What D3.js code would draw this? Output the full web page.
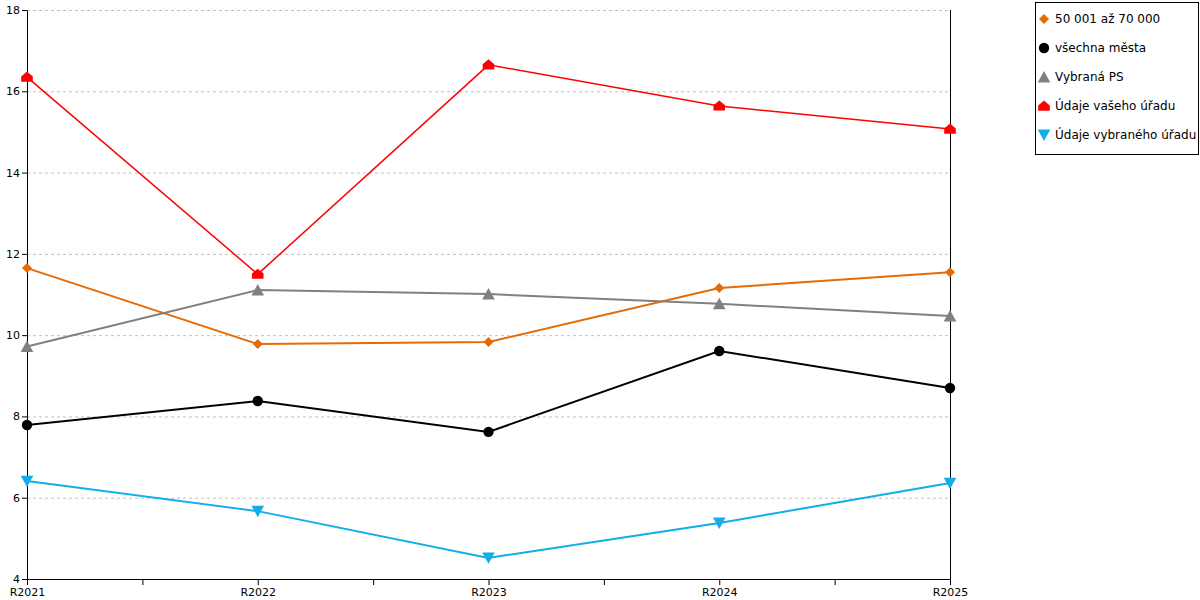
<!DOCTYPE html>
<html>
<head>
<meta charset="utf-8">
<script src="https://cdn.jsdelivr.net/npm/d3@7"></script>
<style>
  html, body { margin: 0; padding: 0; background: #fff; }
  svg { display: block; font-family: "DejaVu Sans", Verdana, sans-serif; }
</style>
</head>
<body>
<svg id="chart" width="1200" height="600"></svg>
<script>
const categories = ["R2021", "R2022", "R2023", "R2024", "R2025"];
const yTicks = [4, 6, 8, 10, 12, 14, 16, 18];

const seriesNames = ["50 001 až 70 000", "všechna města", "Vybraná PS", "Údaje vašeho úřadu", "Údaje vybraného úřadu"];
const seriesColors = ["#e36c09", "#000000", "#808080", "#ff0000", "#12aee8"];
const seriesSymbols = ["diamond", "circle", "triangle", "house", "triangleDown"];

const values5070 = [11.65, 9.78, 9.83, 11.16, 11.55];
const valuesAll = [7.79, 8.38, 7.62, 9.61, 8.70];
const valuesPS = [9.72, 11.11, 11.01, 10.77, 10.47];
const valuesYour = [16.35, 11.50, 16.65, 15.64, 15.07];
const valuesSelected = [6.41, 5.67, 4.52, 5.38, 6.36];

const seriesValues = [values5070, valuesAll, valuesPS, valuesYour, valuesSelected];

const svg = d3.select("#chart");
const L = 27, R = 950, T = 10, B = 579;

const x = d3.scalePoint().domain(categories).range([L, R]).padding(0);
const xIdx = d3.scaleLinear().domain([0, categories.length - 1]).range([L, R]);
const y = d3.scaleLinear().domain([4, 18]).range([B, T]);

// gridlines
svg.append("g")
  .selectAll("line")
  .data(yTicks.filter(d => d > 4))
  .join("line")
  .attr("x1", L).attr("x2", R)
  .attr("y1", d => y(d) + 0.5).attr("y2", d => y(d) + 0.5)
  .attr("stroke", "#c0c0c0")
  .attr("stroke-width", 1)
  .attr("stroke-dasharray", "3,3");

// right vertical line
svg.append("line")
  .attr("x1", R + 0.5).attr("x2", R + 0.5)
  .attr("y1", T).attr("y2", B)
  .attr("stroke", "#000").attr("stroke-width", 1);

// y axis
const yAxis = svg.append("g")
  .attr("transform", `translate(${L},0)`)
  .call(d3.axisLeft(y).tickValues(yTicks).tickSize(5).tickSizeOuter(0).tickFormat(d3.format("d")).offset(0.5));
yAxis.select(".domain").attr("stroke", "#000");
yAxis.selectAll("line").attr("stroke", "#000");
yAxis.selectAll("text").attr("font-size", 11).attr("fill", "#000").attr("font-family", "DejaVu Sans, sans-serif").attr("x", -7);

// x axis
const xAxis = svg.append("g")
  .attr("transform", `translate(0,${B})`)
  .call(d3.axisBottom(x).tickSize(6).tickSizeOuter(0).offset(0.5));
xAxis.select(".domain").attr("stroke", "#000");
xAxis.selectAll("line").attr("stroke", "#000");
xAxis.selectAll("text").attr("font-size", 11).attr("fill", "#000").attr("font-family", "DejaVu Sans, sans-serif").attr("y", 9).attr("dy", "0.71em");

// minor x ticks
const minor = d3.range(categories.length - 1).map(i => i + 0.5);
const xMinor = svg.append("g")
  .attr("transform", `translate(0,${B})`)
  .call(d3.axisBottom(xIdx).tickValues(minor).tickSize(6).tickFormat("").offset(0.5));
xMinor.select(".domain").remove();
xMinor.selectAll("line").attr("stroke", "#000");

// symbol generators
function symbolPath(kind, s) {
  if (kind === "diamond") {
    return `M0,${-s}L${s},0L0,${s}L${-s},0Z`;
  }
  if (kind === "circle") {
    return d3.symbol(d3.symbolCircle, Math.PI * s * s)();
  }
  if (kind === "triangle") {
    const h = s * 1.0;
    return `M0,${-h}L${s * 1.05},${h * 0.9}L${-s * 1.05},${h * 0.9}Z`;
  }
  if (kind === "triangleDown") {
    const h = s * 1.0;
    return `M0,${h}L${s * 1.05},${-h * 0.9}L${-s * 1.05},${-h * 0.9}Z`;
  }
  if (kind === "house") {
    return `M${-s},${s * 0.8}L${s},${s * 0.8}L${s},${-s * 0.1}L0,${-s * 0.95}L${-s},${-s * 0.1}Z`;
  }
}
const symSize = { diamond: 5, circle: 5.2, triangle: 6, triangleDown: 6, house: 5.8 };

const line = d3.line().x((d, i) => x(categories[i])).y(d => y(d));

seriesValues.forEach((vals, si) => {
  const g = svg.append("g");
  g.append("path")
    .datum(vals)
    .attr("d", line)
    .attr("fill", "none")
    .attr("stroke", seriesColors[si])
    .attr("stroke-width", si === 3 ? 1.5 : 2);
  g.selectAll("path.m")
    .data(vals)
    .join("path")
    .attr("class", "m")
    .attr("transform", (d, i) => `translate(${x(categories[i])},${y(d)})`)
    .attr("d", symbolPath(seriesSymbols[si], symSize[seriesSymbols[si]]))
    .attr("fill", seriesColors[si]);
});

// legend
const lg = svg.append("g");
lg.append("rect")
  .attr("x", 1035.5).attr("y", 2.5)
  .attr("width", 163).attr("height", 152)
  .attr("fill", "#fff").attr("stroke", "#000").attr("stroke-width", 1);
seriesNames.forEach((name, i) => {
  const cy = 19 + i * 29;
  lg.append("path")
    .attr("transform", `translate(1044,${cy})`)
    .attr("d", symbolPath(seriesSymbols[i], symSize[seriesSymbols[i]]))
    .attr("fill", seriesColors[i]);
  lg.append("text")
    .attr("x", 1055).attr("y", cy)
    .attr("dy", "0.35em")
    .attr("font-size", 12)
    .attr("fill", "#000")
    .text(name);
});
</script>
</body>
</html>
